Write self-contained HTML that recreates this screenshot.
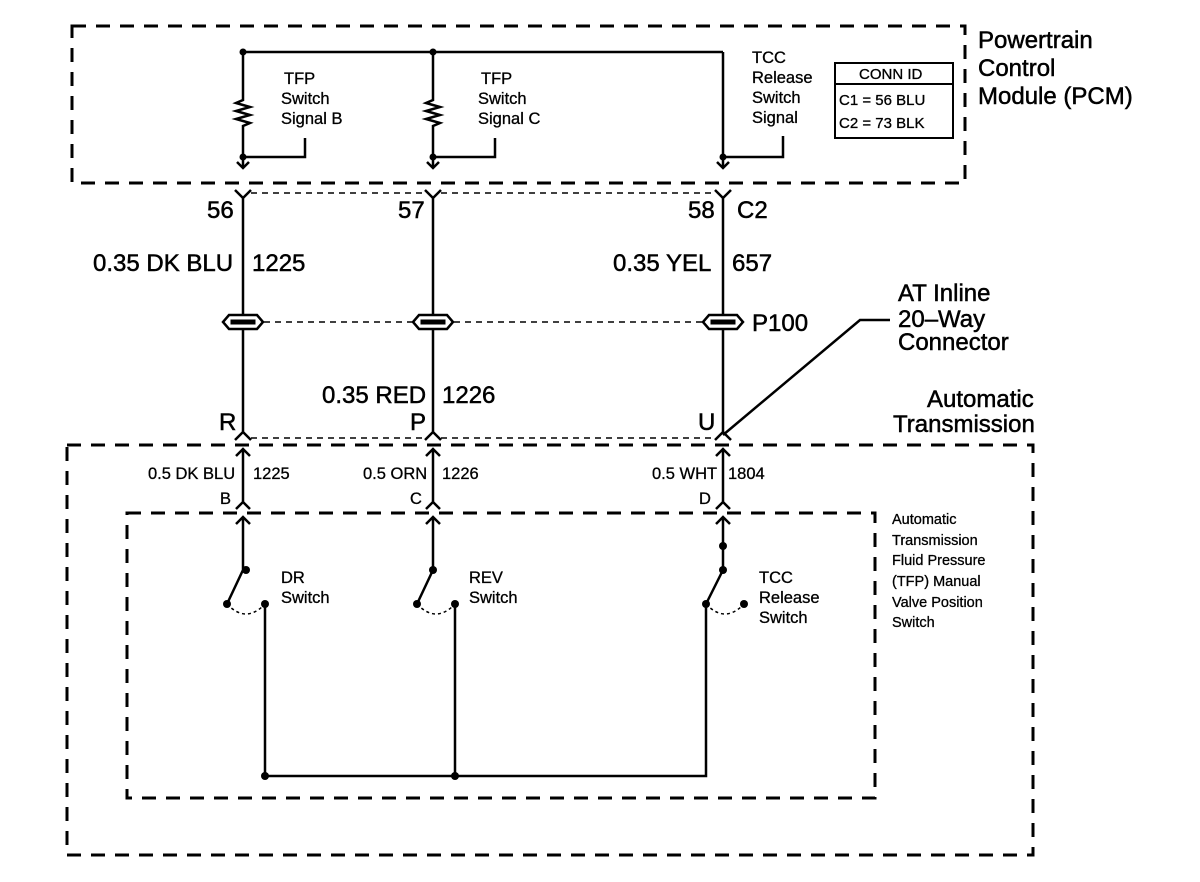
<!DOCTYPE html>
<html><head><meta charset="utf-8"><style>
html,body{margin:0;padding:0;background:#fff;}
svg{display:block;font-family:"Liberation Sans",Arial,sans-serif;}
.L{font-size:24px;stroke:#000;stroke-width:0.5;} .M{font-size:16.5px;stroke:#000;stroke-width:0.3;} .S{font-size:15px;stroke:#000;stroke-width:0.3;}
.R{font-size:14.5px;stroke:#000;stroke-width:0.3;}
</style></head><body>
<svg width="1200" height="882" viewBox="0 0 1200 882" xmlns="http://www.w3.org/2000/svg">
<g fill="none" stroke="#000" stroke-width="3" stroke-dasharray="14,10">
<rect x="72" y="26" width="893" height="157"/>
<rect x="67" y="445" width="966" height="410"/>
<rect x="127" y="513" width="748" height="285"/>
</g>
<g fill="none" stroke="#000" stroke-width="1.5" stroke-dasharray="6,5">
<path d="M251 193 H425 M441 193 H715"/>
<path d="M264 322 H412 M454 322 H702"/>
<path d="M251 438 H425 M441 438 H715"/>
</g>
<g fill="none" stroke="#000" stroke-width="2.5">
<path d="M243 52 H723"/>
<path d="M243 52 V100 l-7 3 l14 4 l-14 4 l14 4 l-14 4 l14 4 l-7 3 V157 H305 V138"/>
<path d="M433 52 V100 l-7 3 l14 4 l-14 4 l14 4 l-14 4 l14 4 l-7 3 V157 H495 V138"/>
<path d="M723 52 V157 H783 V136"/>
<path d="M243 157 V168 M237 162 L243 168 L249 162"/>
<path d="M433 157 V168 M427 162 L433 168 L439 162"/>
<path d="M723 157 V168 M717 162 L723 168 L729 162"/>
<path d="M235 190 L243 198 L251 190 M243 198 V432 M235 440 L243 432 L251 440"/>
<path d="M425 190 L433 198 L441 190 M433 198 V432 M425 440 L433 432 L441 440"/>
<path d="M715 190 L723 198 L731 190 M723 198 V432 M715 440 L723 432 L731 440"/>
<path d="M236 456 L243 449 L250 456 M243 449 V502 M236 509 L243 502 L250 509"/>
<path d="M426 456 L433 449 L440 456 M433 449 V502 M426 509 L433 502 L440 509"/>
<path d="M716 456 L723 449 L730 456 M723 449 V502 M716 509 L723 502 L730 509"/>
<path d="M236 524 L243 517 L250 524 M243 517 V570 L227 604"/>
<path d="M426 524 L433 517 L440 524 M433 517 V570 L417 604"/>
<path d="M716 524 L723 517 L730 524 M723 517 V570 L706 604"/>
<path d="M265 604 V776 H706 V604 M455 604 V776"/>
<path d="M723 435 L860 320 H890"/>
</g>
<g fill="none" stroke="#000" stroke-width="1.5" stroke-dasharray="3,3">
<path d="M227 604 Q246 624 265 604"/>
<path d="M417 604 Q436 624 455 604"/>
<path d="M706 604 Q725 624 744 604"/>
</g>
<g fill="#000">
<circle cx="243" cy="52" r="3.5"/><circle cx="433" cy="52" r="3.5"/>
<circle cx="243" cy="157" r="3.5"/><circle cx="433" cy="157" r="3.5"/><circle cx="723" cy="157" r="3.5"/>
<circle cx="246" cy="570" r="4"/><circle cx="433" cy="570" r="4"/><circle cx="723" cy="570" r="4"/><circle cx="723" cy="546" r="4"/>
<circle cx="227" cy="604" r="4"/><circle cx="265" cy="604" r="4"/>
<circle cx="417" cy="604" r="4"/><circle cx="455" cy="604" r="4"/>
<circle cx="706" cy="604" r="4"/><circle cx="744" cy="604" r="4"/>
<circle cx="265" cy="776" r="4"/><circle cx="455" cy="776" r="4"/>
</g>
<g fill="#fff" stroke="#000" stroke-width="2.5">
<path d="M229 315 H257 L263 322 L257 329 H229 L223 322 Z"/><path d="M231 320 H255 V324 H231 Z" fill="#000" stroke-width="1"/>
<path d="M419 315 H447 L453 322 L447 329 H419 L413 322 Z"/><path d="M421 320 H445 V324 H421 Z" fill="#000" stroke-width="1"/>
<path d="M709 315 H737 L743 322 L737 329 H709 L703 322 Z"/><path d="M711 320 H735 V324 H711 Z" fill="#000" stroke-width="1"/>
</g>
<rect x="835" y="63" width="118" height="75" fill="none" stroke="#000" stroke-width="2"/>
<path d="M835 84 H953" stroke="#000" stroke-width="2"/>
<g class="S" fill="#000">
<text x="859" y="79">CONN ID</text>
<text x="839" y="105">C1 = 56 BLU</text>
<text x="839" y="128">C2 = 73 BLK</text>
</g>
<g class="M" fill="#000">
<text x="284" y="84">TFP</text><text x="281" y="104">Switch</text><text x="281" y="124">Signal B</text>
<text x="481" y="84">TFP</text><text x="478" y="104">Switch</text><text x="478" y="124">Signal C</text>
<text x="752" y="63">TCC</text><text x="752" y="83">Release</text><text x="752" y="103">Switch</text><text x="752" y="123">Signal</text>
<text x="281" y="583">DR</text><text x="281" y="603">Switch</text>
<text x="469" y="583">REV</text><text x="469" y="603">Switch</text>
<text x="759" y="583">TCC</text><text x="759" y="603">Release</text><text x="759" y="623">Switch</text>
<text x="148" y="479">0.5 DK BLU</text><text x="253" y="479">1225</text>
<text x="363" y="479">0.5 ORN</text><text x="442" y="479">1226</text>
<text x="652" y="479">0.5 WHT</text><text x="728" y="479">1804</text>
<text x="220" y="504">B</text><text x="410" y="504">C</text><text x="699" y="504">D</text>
</g>
<g class="R" fill="#000">
<text x="892" y="524">Automatic</text><text x="892" y="545">Transmission</text><text x="892" y="565">Fluid Pressure</text>
<text x="892" y="586">(TFP) Manual</text><text x="892" y="607">Valve Position</text><text x="892" y="627">Switch</text>
</g>
<g class="L" fill="#000">
<text x="978" y="48">Powertrain</text><text x="978" y="76">Control</text><text x="978" y="104">Module (PCM)</text>
<text x="207" y="218">56</text><text x="398" y="218">57</text><text x="688" y="218">58</text><text x="737" y="218">C2</text>
<text x="93" y="271">0.35 DK BLU</text><text x="252" y="271">1225</text>
<text x="613" y="271">0.35 YEL</text><text x="732" y="271">657</text>
<text x="752" y="331">P100</text>
<text x="898" y="301">AT Inline</text><text x="898" y="327">20–Way</text><text x="898" y="350">Connector</text>
<text x="322" y="403">0.35 RED</text><text x="442" y="403">1226</text>
<text x="219" y="430">R</text><text x="410" y="430">P</text><text x="698" y="430">U</text>
<text x="927" y="407">Automatic</text><text x="893" y="432">Transmission</text>
</g>
</svg>
</body></html>
